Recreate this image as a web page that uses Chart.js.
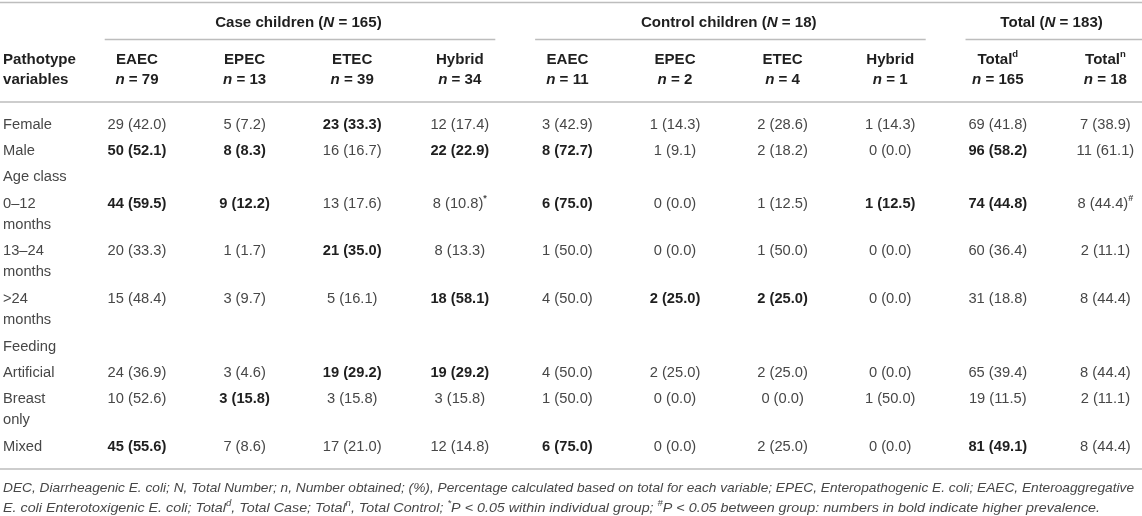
<!DOCTYPE html>
<html>
<head>
<meta charset="utf-8">
<script src="https://cdn.jsdelivr.net/npm/chart.js@4.4.1/dist/chart.umd.min.js"></script>
<style>
  html, body { margin: 0; padding: 0; background: #ffffff; }
  #wrap { position: relative; width: 1142px; height: 516px; }
</style>
</head>
<body>
<div id="wrap"><canvas id="c"></canvas></div>
<script>
// ---------------- DATA ----------------
const rowLabels = ['Female', 'Male', 'Age class', '0–12\nmonths', '13–24\nmonths', '>24\nmonths',
                   'Feeding', 'Artificial', 'Breast\nonly', 'Mixed'];

const columnKeys  = ['caseEAEC', 'caseEPEC', 'caseETEC', 'caseHybrid',
                     'ctrlEAEC', 'ctrlEPEC', 'ctrlETEC', 'ctrlHybrid',
                     'totalCase', 'totalCtrl'];
const columnNames = ['EAEC', 'EPEC', 'ETEC', 'Hybrid', 'EAEC', 'EPEC', 'ETEC', 'Hybrid', 'Total', 'Total'];
const columnSups  = ['', '', '', '', '', '', '', '', 'd', 'n'];
const columnN     = [79, 13, 39, 34, 11, 2, 4, 1, 165, 18];

const groupLabels = ['Case children', 'Control children', 'Total'];
const groupN      = [165, 18, 183];
const groupFirst  = [0, 4, 8];
const groupLast   = [3, 7, 9];

// counts and percentages per column (null = section heading row)
const caseEAEC_n   = [29, 50, null, 44, 20, 15, null, 24, 10, 45];
const caseEAEC_p   = [42.0, 52.1, null, 59.5, 33.3, 48.4, null, 36.9, 52.6, 55.6];
const caseEPEC_n   = [5, 8, null, 9, 1, 3, null, 3, 3, 7];
const caseEPEC_p   = [7.2, 8.3, null, 12.2, 1.7, 9.7, null, 4.6, 15.8, 8.6];
const caseETEC_n   = [23, 16, null, 13, 21, 5, null, 19, 3, 17];
const caseETEC_p   = [33.3, 16.7, null, 17.6, 35.0, 16.1, null, 29.2, 15.8, 21.0];
const caseHybrid_n = [12, 22, null, 8, 8, 18, null, 19, 3, 12];
const caseHybrid_p = [17.4, 22.9, null, 10.8, 13.3, 58.1, null, 29.2, 15.8, 14.8];
const ctrlEAEC_n   = [3, 8, null, 6, 1, 4, null, 4, 1, 6];
const ctrlEAEC_p   = [42.9, 72.7, null, 75.0, 50.0, 50.0, null, 50.0, 50.0, 75.0];
const ctrlEPEC_n   = [1, 1, null, 0, 0, 2, null, 2, 0, 0];
const ctrlEPEC_p   = [14.3, 9.1, null, 0.0, 0.0, 25.0, null, 25.0, 0.0, 0.0];
const ctrlETEC_n   = [2, 2, null, 1, 1, 2, null, 2, 0, 2];
const ctrlETEC_p   = [28.6, 18.2, null, 12.5, 50.0, 25.0, null, 25.0, 0.0, 25.0];
const ctrlHybrid_n = [1, 0, null, 1, 0, 0, null, 0, 1, 0];
const ctrlHybrid_p = [14.3, 0.0, null, 12.5, 0.0, 0.0, null, 0.0, 50.0, 0.0];
const totalCase_n  = [69, 96, null, 74, 60, 31, null, 65, 19, 81];
const totalCase_p  = [41.8, 58.2, null, 44.8, 36.4, 18.8, null, 39.4, 11.5, 49.1];
const totalCtrl_n  = [7, 11, null, 8, 2, 8, null, 8, 2, 8];
const totalCtrl_p  = [38.9, 61.1, null, 44.4, 11.1, 44.4, null, 44.4, 11.1, 44.4];

// bold (higher prevalence) cells per row
const boldCells = [
  ['caseETEC'],
  ['caseEAEC', 'caseEPEC', 'caseHybrid', 'ctrlEAEC', 'totalCase'],
  [],
  ['caseEAEC', 'caseEPEC', 'ctrlEAEC', 'ctrlHybrid', 'totalCase'],
  ['caseETEC'],
  ['caseHybrid', 'ctrlEPEC', 'ctrlETEC'],
  [],
  ['caseETEC', 'caseHybrid'],
  ['caseEPEC'],
  ['caseEAEC', 'ctrlEAEC', 'totalCase']
];
// significance marks: [row, column, mark]
const sigMarks = [[3, 'caseHybrid', '*'], [3, 'totalCtrl', '#']];

const headerLabel = ['Pathotype', 'variables'];
const footLine1 = 'DEC, Diarrheagenic E. coli; N, Total Number; n, Number obtained; (%), Percentage calculated based on total for each variable; EPEC, Enteropathogenic E. coli; EAEC, Enteroaggregative';
const footLine2 = [['E. coli Enterotoxigenic E. coli; Total', ''], ['d', 'sup'], [', Total Case; Total', ''], ['n', 'sup'],
                   [', Total Control; ', ''], ['*', 'sup'], ['P < 0.05 within individual group; ', ''], ['#', 'sup'],
                   ['P < 0.05 between group: numbers in bold indicate higher prevalence.', '']];

const seriesN = { caseEAEC: caseEAEC_n, caseEPEC: caseEPEC_n, caseETEC: caseETEC_n, caseHybrid: caseHybrid_n,
                  ctrlEAEC: ctrlEAEC_n, ctrlEPEC: ctrlEPEC_n, ctrlETEC: ctrlETEC_n, ctrlHybrid: ctrlHybrid_n,
                  totalCase: totalCase_n, totalCtrl: totalCtrl_n };
const seriesP = { caseEAEC: caseEAEC_p, caseEPEC: caseEPEC_p, caseETEC: caseETEC_p, caseHybrid: caseHybrid_p,
                  ctrlEAEC: ctrlEAEC_p, ctrlEPEC: ctrlEPEC_p, ctrlETEC: ctrlETEC_p, ctrlHybrid: ctrlHybrid_p,
                  totalCase: totalCase_p, totalCtrl: totalCtrl_p };

// row positions on the y scale (a two-line row takes 1.8 units)
const rowPos = [];
(function () { let p = 0; rowLabels.forEach(l => { rowPos.push(p); p += l.includes('\n') ? 1.8 : 1; }); })();
const lastPos = rowPos[rowPos.length - 1];

// ---------------- STYLE / LAYOUT ----------------
const FAMILY = '"Liberation Sans", Arial, Helvetica, sans-serif';
const SIZE = 14.7, HSIZE = 15.1;
const TEXT = '#474747', BOLD = '#1f1f1f', RULE = '#bdbdbd';
const L = { labelX: 3, topRule: 2.5, groupText: 23, groupRule: 39.5, head1: 59.5, head2: 80,
            headRule: 102, bottomRule: 469, foot1: 488.5, foot2: 508, lineGap: 0.795,
            foot1Width: 1131, foot2Width: 1097 };

function font(size, weight, style) { return (style || 'normal') + ' ' + (weight || 'normal') + ' ' + size + 'px ' + FAMILY; }

function measureRich(ctx, segs) {
  let w = 0;
  segs.forEach(s => { ctx.font = s.font; s.w = ctx.measureText(s.t).width; w += s.w; });
  return w;
}
function drawRich(ctx, segs, x, y, align) {
  const w = measureRich(ctx, segs);
  let cx = align === 'center' ? x - w / 2 : (align === 'right' ? x - w : x);
  segs.forEach(s => { ctx.font = s.font; ctx.fillStyle = s.color; ctx.fillText(s.t, cx, y + (s.dy || 0)); cx += s.w; });
  return w;
}

function hRule(ctx, x0, x1, y, lw) {
  ctx.beginPath(); ctx.strokeStyle = RULE; ctx.lineWidth = lw || 1.5;
  ctx.moveTo(x0, y); ctx.lineTo(x1, y); ctx.stroke();
}

const tablePlugin = {
  id: 'tablePlugin',
  afterDraw(chart) {
    const ctx = chart.ctx, xs = chart.scales.x, ys = chart.scales.y;
    const W = chart.width;
    const step = xs.getPixelForValue(1) - xs.getPixelForValue(0);
    ctx.save();
    ctx.textAlign = 'left';
    ctx.textBaseline = 'middle';

    // rules
    hRule(ctx, 0, W, L.topRule, 1.6);
    hRule(ctx, 0, W, L.headRule, 1.6);
    hRule(ctx, 0, W, L.bottomRule, 1.6);

    // group headers
    groupLabels.forEach((g, i) => {
      const a = xs.getPixelForValue(groupFirst[i]), b = xs.getPixelForValue(groupLast[i]);
      const x0 = a - 0.3 * step;
      const x1 = i === groupLabels.length - 1 ? W : b + 0.33 * step;
      hRule(ctx, x0, x1, L.groupRule, 1.5);
      drawRich(ctx, [
        { t: g + ' (', font: font(HSIZE, 'bold'), color: BOLD },
        { t: 'N', font: font(HSIZE, 'bold', 'italic'), color: BOLD },
        { t: ' = ' + groupN[i] + ')', font: font(HSIZE, 'bold'), color: BOLD }
      ], (a + b) / 2, L.groupText, 'center');
    });

    // column headers
    drawRich(ctx, [{ t: headerLabel[0], font: font(HSIZE, 'bold'), color: BOLD }], L.labelX, L.head1, 'left');
    drawRich(ctx, [{ t: headerLabel[1], font: font(HSIZE, 'bold'), color: BOLD }], L.labelX, L.head2, 'left');
    columnKeys.forEach((k, i) => {
      const x = xs.getPixelForValue(i);
      const segs = [{ t: columnNames[i], font: font(HSIZE, 'bold'), color: BOLD }];
      if (columnSups[i]) segs.push({ t: columnSups[i], font: font(9.5, 'bold'), color: BOLD, dy: -5 });
      drawRich(ctx, segs, x, L.head1, 'center');
      drawRich(ctx, [
        { t: 'n', font: font(HSIZE, 'bold', 'italic'), color: BOLD },
        { t: ' = ' + columnN[i], font: font(HSIZE, 'bold'), color: BOLD }
      ], x, L.head2, 'center');
    });

    // body rows
    rowLabels.forEach((lab, r) => {
      const y = ys.getPixelForValue(rowPos[r]);
      const y2 = ys.getPixelForValue(rowPos[r] + L.lineGap);
      const parts = lab.split('\n');
      drawRich(ctx, [{ t: parts[0], font: font(SIZE), color: TEXT }], L.labelX, y, 'left');
      if (parts[1]) drawRich(ctx, [{ t: parts[1], font: font(SIZE), color: TEXT }], L.labelX, y2, 'left');
      columnKeys.forEach((k, c) => {
        const n = seriesN[k][r];
        if (n === null) return;
        const p = seriesP[k][r];
        const isBold = boldCells[r].includes(k);
        const segs = [{ t: n + ' (' + p.toFixed(1) + ')', font: font(SIZE, isBold ? 'bold' : 'normal'),
                        color: isBold ? BOLD : TEXT }];
        sigMarks.forEach(m => {
          if (m[0] === r && m[1] === k) segs.push({ t: m[2], font: font(9, 'bold'), color: TEXT, dy: -5 });
        });
        drawRich(ctx, segs, xs.getPixelForValue(c), y, 'center');
      });
    });

    // footnote
    const fs = 13.5;
    const seg1 = [{ t: footLine1, font: font(fs, 'normal', 'italic'), color: TEXT }];
    const seg2 = footLine2.map(s => s[1] === 'sup'
      ? { t: s[0], font: font(9, 'normal', 'italic'), color: TEXT, dy: -5 }
      : { t: s[0], font: font(fs, 'normal', 'italic'), color: TEXT });
    const sx1 = L.foot1Width / measureRich(ctx, seg1);
    const sx2 = L.foot2Width / measureRich(ctx, seg2);
    ctx.save();
    ctx.translate(L.labelX, L.foot1); ctx.scale(sx1, 1);
    drawRich(ctx, seg1, 0, 0, 'left');
    ctx.restore();
    ctx.save();
    ctx.translate(L.labelX, L.foot2); ctx.scale(sx2, 1);
    drawRich(ctx, seg2, 0, 0, 'left');
    ctx.restore();

    ctx.restore();
  }
};

new Chart(document.getElementById('c'), {
  type: 'bar',
  data: { labels: columnKeys, datasets: [] },
  options: {
    responsive: true,
    maintainAspectRatio: false,
    animation: false,
    events: [],
    layout: { padding: { left: 137, right: 36.6, top: 124.5, bottom: 69 } },
    plugins: { legend: { display: false }, tooltip: { enabled: false }, title: { display: false } },
    scales: {
      x: { type: 'category', labels: columnKeys, offset: false, display: false },
      y: { type: 'linear', min: 0, max: lastPos, reverse: true, display: false }
    }
  },
  plugins: [tablePlugin]
});
</script>
</body>
</html>
